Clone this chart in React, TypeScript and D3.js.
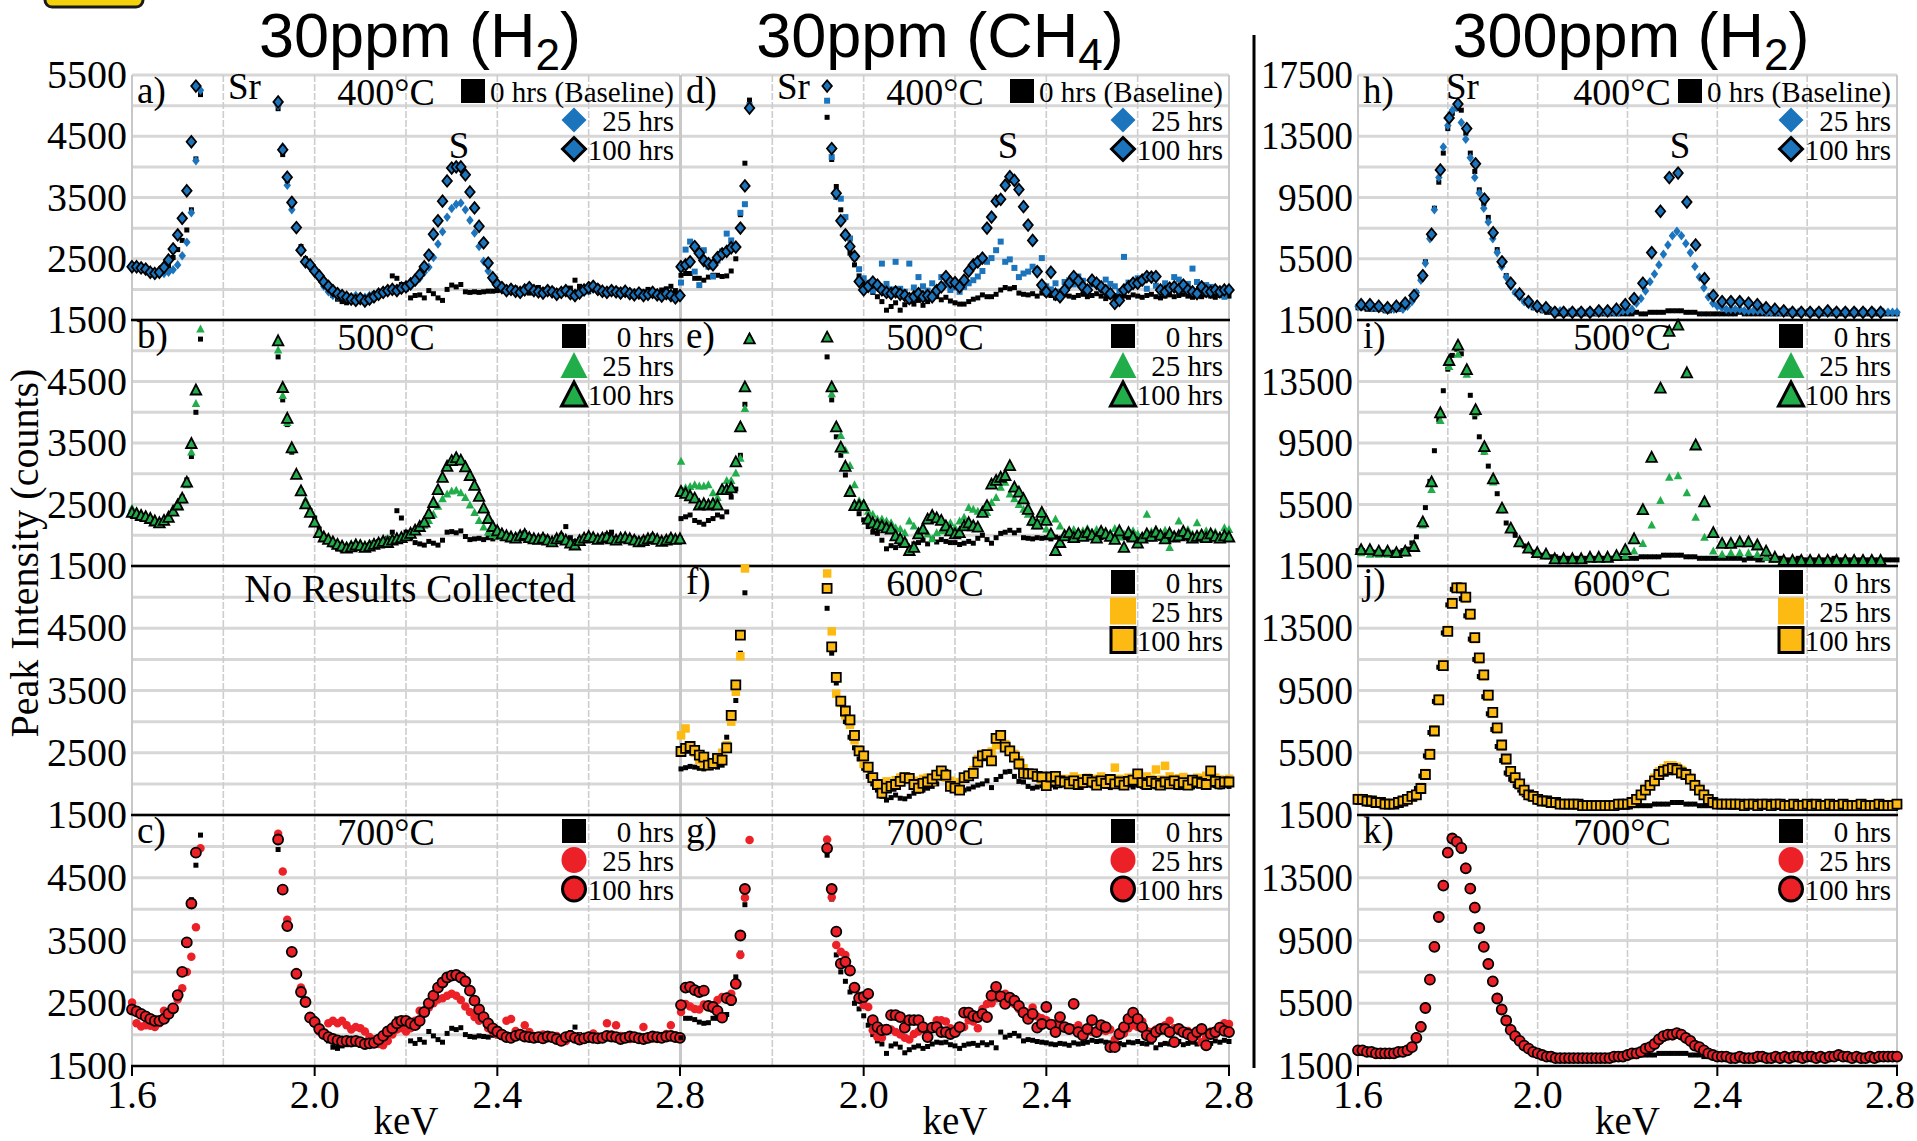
import React from 'react';
import * as d3 from 'd3';

type V = number | null;
const _ = null; // channel off scale (Sr peak clipped)

// energy grid of the spectra
const FINE_START = 1.6; // keV, 10 eV channels
const FINE_STEP = 0.01;
const COARSE_START = 1.607; // every other channel (h, i)
const COARSE_STEP = 0.0196;

// ---------- 30 ppm panels, counts / 10 ----------
const a0: V[] = [
  236,235,233,232,230,228,229,231,238,252,
  265,280,297,330,413,518,_,_,_,_,
  _,_,_,_,_,_,_,_,_,_,
  _,_,495,420,378,338,300,270,250,240,
  230,220,207,198,190,184,180,178,183,186,
  181,184,188,193,195,197,200,222,218,208,
  200,186,190,191,186,198,193,186,182,200,
  207,204,208,196,195,196,195,196,197,197,
  198,200,196,199,202,197,198,194,200,203,
  199,195,200,197,193,198,202,215,205,197,
  196,200,204,198,193,197,200,196,192,197,
  194,190,196,200,193,195,199,201,205,198,
  192];
const a25: V[] = [
  240,238,236,233,230,227,226,226,228,232,
  240,255,277,325,410,525,_,_,_,_,
  _,_,_,_,_,_,_,_,_,_,
  _,_,500,433,370,330,298,265,246,238,
  228,218,205,196,190,188,187,189,186,190,
  188,187,190,192,195,197,199,200,201,202,
  203,207,212,218,228,236,252,274,294,318,
  332,339,341,330,313,292,270,246,230,215,
  205,200,197,199,195,193,197,200,196,194,
  195,197,194,191,194,196,192,190,193,196,
  198,200,197,195,193,196,194,192,195,191,
  190,193,189,191,194,190,188,191,188,185,
  188];
const a100: V[] = [
  237,237,235,233,228,226,228,236,248,266,
  289,316,361,441,532,_,_,_,_,_,
  _,_,_,_,_,_,_,_,_,_,
  _,_,506,428,383,342,301,264,245,240,
  230,222,212,205,198,193,190,187,184,182,
  185,181,184,188,192,195,198,200,198,202,
  204,209,215,224,237,256,290,312,344,377,
  398,400,400,387,359,333,303,276,243,219,
  208,203,198,200,197,195,199,203,198,196,
  194,198,196,192,195,198,193,190,194,199,
  203,205,200,197,195,198,196,194,197,193,
  191,194,190,192,195,191,189,193,190,186,
  190];

const b0: V[] = [
  232,230,228,226,224,220,218,221,228,236,
  246,262,290,328,400,519,_,_,_,_,
  _,_,_,_,_,_,_,_,_,_,
  _,_,490,420,380,335,298,272,254,240,
  228,210,198,190,184,178,176,180,183,184,
  183,182,185,188,190,192,195,205,240,228,
  205,196,188,186,184,190,187,184,192,205,
  206,204,207,198,193,194,195,193,196,194,
  197,195,199,196,194,201,204,198,194,193,
  198,195,191,196,200,214,196,190,193,197,
  199,196,193,197,201,205,195,194,196,193,
  195,192,194,196,199,193,190,194,197,192,
  195];
const b25: V[] = [
  245,240,236,233,230,226,223,224,229,238,
  247,258,283,336,415,536,_,_,_,_,
  _,_,_,_,_,_,_,_,_,_,
  _,_,502,428,384,340,302,276,258,242,
  225,208,200,195,191,188,186,185,187,189,
  188,186,188,190,192,194,196,197,199,200,
  202,205,208,212,217,225,235,248,260,268,
  273,274,270,262,250,238,225,214,206,202,
  200,199,198,197,200,203,199,197,196,195,
  197,195,193,196,199,195,191,190,194,197,
  200,198,196,197,199,196,194,197,198,196,
  194,192,193,196,198,195,192,194,197,195,
  196];
const b100: V[] = [
  238,236,233,231,228,224,221,225,230,240,
  250,261,287,350,437,_,_,_,_,_,
  _,_,_,_,_,_,_,_,_,_,
  _,_,517,441,391,343,300,273,252,238,
  222,205,198,194,190,186,183,180,182,185,
  184,181,183,186,188,191,189,193,195,197,
  200,204,209,215,222,236,254,275,295,313,
  322,327,323,312,298,282,264,245,228,215,
  208,203,200,198,196,200,202,197,195,194,
  196,193,190,195,198,193,188,185,192,196,
  199,197,194,196,198,195,193,196,197,195,
  193,190,192,195,197,194,191,193,196,194,
  195];

const c0: V[] = [
  238,236,233,230,226,224,224,228,235,245,
  266,300,342,415,470,518,_,_,_,_,
  _,_,_,_,_,_,_,_,_,_,
  _,_,495,430,372,335,300,270,250,232,
  225,210,198,190,180,178,182,184,186,185,
  183,186,188,190,194,197,205,215,225,218,
  205,190,186,192,188,205,198,192,188,202,
  210,208,211,200,197,196,198,197,196,199,
  198,196,200,197,195,199,201,196,197,200,
  199,194,196,198,195,197,203,212,200,198,
  197,195,199,196,194,198,197,200,195,193,
  196,199,197,195,194,198,196,197,199,195,
  194];
const c25: V[] = [
  251,218,213,215,214,212,218,238,232,240,
  256,274,300,324,371,497,_,_,_,_,
  _,_,_,_,_,_,_,_,_,_,
  _,_,520,460,383,330,300,275,253,230,
  218,205,200,218,222,218,222,215,208,212,
  210,205,196,192,185,183,190,200,208,210,
  205,210,222,238,236,243,250,256,258,262,
  265,262,255,245,236,228,222,225,210,205,
  200,202,222,225,206,200,215,204,198,196,
  200,196,194,198,192,190,197,195,196,194,
  198,202,196,193,218,200,215,198,196,193,
  197,195,212,196,194,193,198,201,215,199,
  196];
const c100: V[] = [
  240,237,233,229,225,222,222,225,233,242,
  263,300,347,409,490,_,_,_,_,_,
  _,_,_,_,_,_,_,_,_,_,
  _,_,511,431,373,332,297,268,252,227,
  220,209,201,196,193,191,189,190,189,190,
  188,185,186,187,192,198,205,210,218,222,
  222,218,215,222,236,250,262,275,283,291,
  294,295,291,285,270,254,240,228,218,210,
  205,200,196,195,198,200,197,196,195,196,
  194,197,196,193,190,196,198,195,192,194,
  196,195,194,195,198,197,196,193,195,197,
  196,194,193,195,197,196,195,197,198,196,
  195];

const d0: V[] = [
  223,226,226,218,218,215,220,223,223,221,
  222,230,250,322,406,509,_,_,_,_,
  _,_,_,_,_,_,_,_,_,_,
  _,_,481,412,368,330,292,259,240,222,
  212,202,195,188,180,166,172,178,166,175,
  180,176,182,174,180,185,188,183,187,181,
  178,176,176,180,184,186,191,188,188,192,
  199,203,201,203,194,192,191,193,189,194,
  192,190,186,188,191,189,187,190,192,188,
  190,193,189,185,188,190,192,189,187,191,
  189,187,190,192,188,186,189,191,188,190,
  192,189,187,190,188,191,189,187,190,188,
  189];
const d25: V[] = [
  211,265,278,229,207,264,237,221,247,262,
  291,280,269,325,339,501,_,_,_,_,
  _,_,_,_,_,_,_,_,_,_,
  _,_,508,416,351,348,318,283,251,233,
  218,209,198,203,242,209,200,245,201,196,
  242,203,220,205,198,210,200,220,208,199,
  203,196,204,210,215,221,230,245,251,264,
  278,245,249,235,220,226,229,237,232,251,
  205,200,210,196,212,215,208,221,214,203,
  208,212,200,216,209,205,197,253,211,207,
  218,214,201,223,206,199,210,205,220,216,
  200,209,234,212,205,207,204,200,196,188,
  200];
const d100: V[] = [
  237,240,245,270,259,247,242,240,252,258,
  262,268,269,300,369,496,_,_,_,_,
  _,_,_,_,_,_,_,_,_,_,
  _,_,532,430,357,312,289,270,254,213,
  199,205,212,207,199,195,193,196,192,190,
  185,188,193,188,190,188,198,204,221,212,
  211,204,215,230,240,245,251,300,318,344,
  347,370,384,378,363,335,305,280,229,207,
  196,228,192,188,199,210,221,214,204,199,
  215,210,204,198,193,177,182,199,204,210,
  210,215,221,220,221,199,196,202,204,200,
  207,199,196,193,204,197,196,199,196,199,
  199];

const e0: V[] = [
  227,230,233,224,221,218,224,227,233,230,
  238,262,275,330,413,515,_,_,_,_,
  _,_,_,_,_,_,_,_,_,_,
  _,_,490,420,360,330,298,270,250,235,
  225,214,205,203,192,178,183,180,186,190,
  180,186,188,192,186,194,189,193,190,188,
  188,185,187,190,187,195,200,193,187,196,
  203,205,208,204,208,196,195,194,196,195,
  196,194,197,195,198,196,193,195,198,196,
  197,194,196,199,195,193,198,196,194,197,
  195,198,196,194,197,195,199,196,193,197,
  196,194,198,195,197,196,194,198,196,195,
  197];
const e25: V[] = [
  321,278,280,283,281,281,283,270,262,275,
  290,290,302,326,407,524,_,_,_,_,
  _,_,_,_,_,_,_,_,_,_,
  _,_,525,431,377,363,339,314,283,257,
  254,240,235,227,227,224,221,213,211,205,
  224,216,208,210,203,195,205,208,209,221,
  213,224,230,246,243,240,238,238,254,262,
  279,287,268,260,251,243,235,221,216,227,
  211,205,227,216,205,207,210,204,208,212,
  206,210,203,208,205,212,198,203,206,208,
  203,196,235,207,211,204,209,181,203,224,
  206,210,203,221,205,208,202,206,200,213,
  210];
const e100: V[] = [
  272,269,265,261,250,252,250,252,250,275,
  275,278,320,377,442,520,_,_,_,_,
  _,_,_,_,_,_,_,_,_,_,
  _,_,523,442,377,344,313,272,249,249,
  249,227,221,218,216,213,211,200,195,189,
  176,181,203,211,227,233,229,225,216,208,
  203,205,216,221,216,214,238,249,284,290,
  295,298,314,279,271,260,243,225,219,238,
  225,203,176,189,200,205,197,203,199,205,
  201,196,207,203,199,194,208,181,205,198,
  188,196,203,199,206,201,195,204,198,200,
  207,202,196,199,201,197,203,199,196,200,
  198];

const f0: V[] = [
  224,226,228,227,225,224,226,228,227,230,
  275,299,334,410,507,_,_,_,_,_,
  _,_,_,_,_,_,_,_,_,_,
  _,_,482,410,362,330,300,275,258,240,
  225,212,200,190,180,174,178,182,177,176,
  180,185,188,190,193,196,200,212,220,205,
  196,193,190,192,195,198,200,205,194,207,
  212,219,220,212,204,203,196,193,195,197,
  196,198,195,197,199,196,198,195,197,199,
  197,195,198,196,194,199,197,196,198,195,
  198,196,199,197,195,198,196,199,197,194,
  196,198,195,197,199,196,198,197,195,198,
  196];
const f25: V[] = [
  278,289,262,250,238,232,235,233,240,250,
  262,300,348,405,546,_,_,_,_,_,
  _,_,_,_,_,_,_,_,_,_,
  _,_,538,445,345,330,310,295,270,255,
  232,225,208,200,198,204,200,206,210,212,
  210,205,201,208,210,204,212,215,210,205,
  200,203,208,215,222,240,248,246,252,262,
  268,264,255,248,238,225,218,214,210,206,
  204,206,210,203,208,205,212,209,206,210,
  205,208,212,209,206,226,208,206,210,207,
  210,206,212,208,223,207,229,212,205,209,
  211,207,205,210,209,213,206,210,207,205,
  208];
const f100: V[] = [
  252,257,260,254,246,243,230,233,241,238,
  258,310,359,439,_,_,_,_,_,_,
  _,_,_,_,_,_,_,_,_,_,
  _,_,514,420,371,333,317,303,278,253,
  245,227,210,199,185,193,196,199,204,210,
  209,199,193,201,203,208,214,221,214,196,
  193,190,210,213,217,235,245,247,237,273,
  278,259,253,243,232,217,216,216,212,211,
  197,211,212,205,203,200,205,199,202,207,
  203,198,205,201,207,200,203,198,204,206,
  216,202,199,204,201,198,203,200,205,199,
  202,198,206,203,201,199,221,204,200,203,
  203];

const g0: V[] = [
  195,226,226,224,220,218,219,226,226,228,
  232,250,292,330,407,_,_,_,_,_,
  _,_,_,_,_,_,_,_,_,_,
  _,_,486,416,327,300,285,268,250,241,
  230,215,200,190,185,170,182,185,180,171,
  176,180,182,178,181,185,188,187,188,184,
  182,178,183,185,186,183,187,184,187,179,
  204,196,199,202,198,190,192,191,189,188,
  187,185,184,186,185,183,187,185,186,188,
  191,189,190,188,187,185,186,184,188,187,
  189,186,185,188,179,184,186,185,187,189,
  184,186,188,185,187,189,186,190,188,191,
  189];
const g25: V[] = [
  236,249,245,241,240,248,246,241,255,260,
  260,265,280,327,418,510,_,_,_,_,
  _,_,_,_,_,_,_,_,_,_,
  _,_,511,419,343,332,327,305,275,262,
  247,244,207,196,195,210,208,204,200,195,
  192,201,205,208,210,212,223,223,221,210,
  208,213,212,223,221,210,241,249,250,258,
  262,265,257,249,241,238,235,243,229,226,
  223,215,218,215,212,207,210,215,204,206,
  204,207,207,206,208,192,204,202,210,215,
  212,221,206,204,208,210,215,222,210,206,
  204,206,200,198,188,196,205,200,210,218,
  217];
const g100: V[] = [
  247,275,276,271,268,270,246,244,238,227,
  258,255,281,358,432,_,_,_,_,_,
  _,_,_,_,_,_,_,_,_,_,
  _,_,497,432,364,313,316,302,275,258,
  260,265,223,212,207,208,231,231,228,211,
  223,223,223,212,196,211,212,204,204,201,
  204,212,235,235,230,228,233,228,262,276,
  261,249,259,254,246,235,225,233,211,217,
  244,216,204,228,212,209,249,204,199,209,
  223,204,215,212,180,180,201,212,225,235,
  225,212,199,195,204,209,209,204,188,209,
  204,201,196,204,209,183,201,204,211,206,
  204];

// ---------- 300 ppm panels, counts / 100 ----------
const h0: V[] = [
  23,23,22,22,22,22,21,21,22,22,
  23,25,28,33,42,53,70,88,105,124,
  140,150,153,152,137,124,112,100,91,82,
  71,61,52,44,38,33,30,27,25,23,
  22,21,20,20,19,19,19,19,19,19,
  19,19,19,19,19,19,19,19,19,19,
  19,19,20,19,19,20,20,20,20,21,
  21,21,21,20,20,20,19,19,19,19,
  19,19,19,19,19,20,19,19,19,19,
  19,19,19,19,19,19,19,19,19,20,
  19,19,19,19,19,19,19,19,19,19,
  19,19,19,19,19,19,19,19,19,19,
  19];
const h25: V[] = [
  24,24,24,23,23,23,22,22,22,23,
  22,24,27,33,41,52,68,87,108,128,
  142,152,154,144,133,121,108,98,88,79,
  68,59,50,43,37,33,30,27,25,24,
  23,22,22,21,21,21,20,20,20,20,
  20,20,20,20,20,20,20,20,20,21,
  21,22,26,29,34,40,45,51,58,64,
  70,73,70,65,59,50,43,36,30,26,
  24,23,22,22,22,22,21,21,21,21,
  21,20,20,20,20,20,20,20,20,20,
  20,20,20,20,20,20,20,20,20,20,
  20,20,20,20,20,20,20,20,20,20,
  20];
const h100: V[] = [
  25,25,24,23,24,26,31,44,71,113,
  147,156,140,117,94,72,53,39,32,27,
  24,23,20,20,20,20,20,21,21,22,
  25,29,39,59,86,108,111,92,64,42,
  31,27,27,27,26,25,23,22,21,20,
  20,20,20,21,20,20,20,20,20,20];

const i0: V[] = [
  25,25,24,24,24,24,24,23,24,24,
  25,26,30,34,42,53,70,90,110,129,
  143,152,156,153,141,126,112,99,89,80,
  70,62,51,43,38,35,31,28,26,24,
  23,22,21,21,21,20,20,20,20,20,
  20,20,20,20,20,20,20,20,20,20,
  20,20,20,21,21,21,21,21,22,22,
  22,22,22,21,21,21,20,20,20,20,
  20,20,20,20,20,20,19,20,20,19,
  19,20,19,19,20,19,19,19,20,19,
  19,19,19,19,19,19,20,19,19,19,
  19,19,19,19,19,19,19,19,19,19,
  19];
const i25: V[] = [
  24,23,23,23,23,24,30,42,65,110,
  145,153,140,115,90,70,52,40,32,27,
  24,22,20,20,20,20,20,20,20,21,
  22,25,30,42,58,73,74,63,47,34,
  25,23,24,24,24,23,21,20,19,19,
  19,19,19,19,19,19,19,19,19,19];
const i100: V[] = [
  26,26,25,25,24,25,28,44,70,115,
  149,159,143,117,93,72,53,40,31,27,
  24,23,20,20,20,20,21,21,21,22,
  26,33,52,86,131,168,172,141,94,57,
  37,30,30,31,31,29,25,21,19,19,
  19,19,19,19,19,19,19,19,19,19];

const j0: V[] = [
  23,23,22,22,22,21,21,21,22,22,
  24,26,28,32,40,53,68,88,110,132,
  150,160,160,154,143,128,115,104,91,80,
  70,59,50,42,38,34,31,28,26,25,
  23,23,22,22,22,21,21,21,21,21,
  21,21,20,20,20,20,20,20,20,20,
  20,21,21,21,21,21,22,22,22,22,
  23,23,23,22,22,22,21,21,21,21,
  21,21,21,20,20,20,20,21,21,20,
  20,20,20,20,20,20,20,21,20,20,
  20,20,20,20,20,20,20,20,20,20,
  20,20,20,20,20,20,20,20,20,20,
  20];
const j25: V[] = [
  26,25,25,24,24,23,23,22,22,23,
  24,25,26,28,33,42,55,70,90,112,
  134,152,162,161,154,143,128,115,104,91,
  80,70,59,50,43,38,34,30,28,26,
  25,24,23,23,22,22,22,21,21,21,
  21,21,21,21,21,21,21,21,22,22,
  22,23,25,28,32,35,39,43,45,47,
  47,46,44,42,39,35,32,28,25,23,
  22,22,22,22,22,21,22,22,22,22,
  22,22,22,22,22,22,21,22,22,22,
  22,22,22,21,22,22,22,22,22,22,
  22,22,22,22,22,22,22,22,22,22,
  22];
const j100: V[] = [
  25,25,24,24,23,23,22,22,22,23,
  24,25,27,28,32,41,54,69,89,111,
  133,151,161,161,155,144,129,116,105,92,
  81,71,60,51,43,39,35,31,28,27,
  25,24,24,23,23,22,22,22,22,22,
  21,21,21,21,21,21,21,21,22,22,
  22,23,25,28,31,34,37,41,43,44,
  45,44,42,41,38,34,31,28,25,23,
  22,22,22,22,22,22,21,22,22,21,
  22,22,21,22,22,21,21,22,21,21,
  22,21,22,21,21,22,21,21,22,21,
  21,21,22,21,21,21,22,21,21,21,
  22];

const k0: V[] = [
  24,24,24,23,23,22,22,22,23,23,
  24,26,28,33,40,52,70,90,110,129,
  150,158,157,152,140,127,115,102,90,79,
  68,58,50,43,38,33,30,27,25,24,
  22,21,21,21,21,21,21,21,21,21,
  21,21,21,21,21,21,21,21,21,21,
  21,21,21,22,22,22,22,23,23,23,
  23,23,23,23,22,22,22,21,21,21,
  21,21,21,21,21,21,21,21,21,21,
  21,21,21,21,21,21,21,21,21,21,
  21,21,21,21,21,21,21,21,21,21,
  21,21,21,21,21,21,21,21,21,21,
  21];
const k25: V[] = [
  25,25,24,24,23,23,23,23,23,24,
  24,26,28,34,41,53,71,92,111,131,
  152,160,158,155,142,129,117,104,92,81,
  69,59,51,44,39,34,31,28,26,24,
  23,22,21,21,20,20,20,20,20,20,
  20,20,20,20,20,20,20,20,21,21,
  21,22,22,24,25,27,29,31,33,34,
  34,35,34,32,30,28,26,24,23,22,
  21,21,21,20,20,20,20,20,20,21,
  21,20,20,20,20,21,20,21,20,20,
  21,21,20,21,20,21,21,22,21,21,
  20,21,20,20,21,20,21,21,21,21,
  21];
const k100: V[] = [
  25,25,24,24,23,23,23,23,23,24,
  24,25,27,33,40,52,70,91,110,130,
  151,160,158,154,141,128,116,103,91,80,
  69,58,51,44,38,34,31,28,26,24,
  23,22,21,21,20,20,20,20,20,20,
  20,20,20,20,20,20,20,21,21,21,
  22,23,23,24,26,27,29,32,34,35,
  35,36,35,33,31,28,27,25,23,22,
  21,21,21,20,20,21,20,20,20,21,
  21,20,20,21,20,21,20,21,21,20,
  21,21,20,21,20,21,21,22,21,21,
  20,21,20,20,21,20,21,21,21,21,
  21];

// ---------- labels & axes ----------
const TEMPS = ['400°C', '500°C', '600°C', '700°C'];
const X_TICKS = [1.6, 2.0, 2.4, 2.8];
const X_GRID = [1.6, 1.8, 2.0, 2.2, 2.4, 2.6, 2.8];
const Y_TICKS_30 = [5500, 4500, 3500, 2500, 1500];
const Y_TICKS_300 = [17500, 13500, 9500, 5500, 1500];
const HOURS = ['0 hrs', '25 hrs', '100 hrs'];

const COLORS = { blue: '#1c75bc', green: '#22ad4b', yellow: '#fdba12', red: '#ec2128' };
type Fam = keyof typeof COLORS;
type Shape = 'square' | 'diamond' | 'triangle' | 'circle';
const FAM_SHAPE: Record<Fam, Shape> = { blue: 'diamond', green: 'triangle', yellow: 'square', red: 'circle' };

// marker sizes [w, h]
const SIZES: Record<Shape, { s25: number[]; s100: number[]; leg: number[] }> = {
  square: { s25: [8.5, 8.5], s100: [9, 9], leg: [26, 27] },
  diamond: { s25: [7.5, 9.5], s100: [9.5, 11.5], leg: [25, 25] },
  triangle: { s25: [8.5, 8], s100: [10.5, 10], leg: [27, 26] },
  circle: { s25: [8.5, 8.5], s100: [10, 10], leg: [25, 26] },
};

interface Series { v: V[]; start: number; step: number }
const fine = (v: V[]): Series => ({ v, start: FINE_START, step: FINE_STEP });
const coarse = (v: V[]): Series => ({ v, start: COARSE_START, step: COARSE_STEP });

interface Panel { id: string; col: number; row: number; fam: Fam; unit: number; s: Series[]; sq25?: boolean }

const PANELS: Panel[] = [
  { id: 'a', col: 0, row: 0, fam: 'blue', unit: 10, s: [fine(a0), fine(a25), fine(a100)] },
  { id: 'b', col: 0, row: 1, fam: 'green', unit: 10, s: [fine(b0), fine(b25), fine(b100)] },
  { id: 'c', col: 0, row: 3, fam: 'red', unit: 10, s: [fine(c0), fine(c25), fine(c100)] },
  { id: 'd', col: 1, row: 0, fam: 'blue', unit: 10, s: [fine(d0), fine(d25), fine(d100)], sq25: true },
  { id: 'e', col: 1, row: 1, fam: 'green', unit: 10, s: [fine(e0), fine(e25), fine(e100)] },
  { id: 'f', col: 1, row: 2, fam: 'yellow', unit: 10, s: [fine(f0), fine(f25), fine(f100)] },
  { id: 'g', col: 1, row: 3, fam: 'red', unit: 10, s: [fine(g0), fine(g25), fine(g100)] },
  { id: 'h', col: 2, row: 0, fam: 'blue', unit: 100, s: [fine(h0), fine(h25), coarse(h100)] },
  { id: 'i', col: 2, row: 1, fam: 'green', unit: 100, s: [fine(i0), coarse(i25), coarse(i100)] },
  { id: 'j', col: 2, row: 2, fam: 'yellow', unit: 100, s: [fine(j0), fine(j25), fine(j100)] },
  { id: 'k', col: 2, row: 3, fam: 'red', unit: 100, s: [fine(k0), fine(k25), fine(k100)] },
];

const COLS = [
  { x0: 132, x1: 680, yMax: 5500, labels: true, xTicks: X_TICKS },
  { x0: 681, x1: 1229, yMax: 5500, labels: false, xTicks: [2.0, 2.4, 2.8] },
  { x0: 1358, x1: 1897, yMax: 17500, labels: true, xTicks: X_TICKS },
];
const ROWS = [[75, 320], [320, 566], [566, 815], [815, 1066]];

const SERIF = "'Liberation Serif', 'Times New Roman', serif";
const SANS = "'Liberation Sans', Arial, sans-serif";
const LEG_FONT = 29;
const BASELINE_TEXT_W = 184; // width of "0 hrs (Baseline)" at LEG_FONT
const PAGE_W = 1917;

function shapePath(shape: Shape, cx: number, cy: number, w: number, h: number): string {
  const hw = w / 2, hh = h / 2;
  const f = (n: number) => n.toFixed(1);
  switch (shape) {
    case 'square':
      return `M${f(cx - hw)},${f(cy - hh)}h${w}v${h}h${-w}Z`;
    case 'diamond':
      return `M${f(cx)},${f(cy - hh)}L${f(cx + hw)},${f(cy)}L${f(cx)},${f(cy + hh)}L${f(cx - hw)},${f(cy)}Z`;
    case 'triangle':
      return `M${f(cx)},${f(cy - hh)}L${f(cx + hw)},${f(cy + hh)}L${f(cx - hw)},${f(cy + hh)}Z`;
    default:
      return `M${f(cx - hw)},${f(cy)}a${hw},${hh} 0 1,0 ${w},0a${hw},${hh} 0 1,0 ${-w},0Z`;
  }
}

function Title({ x, main, sub }: { x: number; main: string; sub: string }) {
  return (
    <text x={x} y={57} textAnchor="middle" fontFamily={SANS} fontSize={63} fill="#000">
      {main}
      <tspan fontSize={44} dy={13}>{sub}</tspan>
      <tspan dy={-13}>)</tspan>
    </text>
  );
}

export default function App() {
  const grid: React.ReactNode[] = [];
  const axes: React.ReactNode[] = [];
  const marks: React.ReactNode[] = [];
  const texts: React.ReactNode[] = [];

  // grid, axis lines and tick labels for every cell
  COLS.forEach((col, ci) => {
    const x = d3.scaleLinear().domain([1.6, 2.8]).range([col.x0, col.x1]);
    ROWS.forEach(([top, bottom], ri) => {
      const y = d3.scaleLinear().domain([1500, col.yMax]).range([bottom, top]);
      const step = col.yMax > 10000 ? 2000 : 500;
      d3.range(1500 + step, col.yMax + 1, step).forEach((v) => {
        grid.push(<line key={`hg${ci}${ri}${v}`} x1={col.x0} x2={col.x1} y1={y(v)} y2={y(v)}
          stroke="#d7d7d7" strokeWidth={3} />);
      });
      X_GRID.forEach((e, gi) => {
        const edge = gi === 0 || gi === X_GRID.length - 1;
        grid.push(<line key={`vg${ci}${ri}${gi}`} x1={x(e)} x2={x(e)} y1={top} y2={bottom}
          stroke={edge ? '#c8c8c8' : '#cdcdcd'} strokeWidth={edge ? 2 : 1.6}
          strokeDasharray={edge ? undefined : '7 2'} />);
      });
      axes.push(<line key={`ax${ci}${ri}`} x1={col.x0 - 1} x2={col.x1 + 1} y1={bottom} y2={bottom}
        stroke="#000" strokeWidth={2.6} />);
      if (col.labels) {
        const ticks = col.yMax > 10000 ? Y_TICKS_300 : Y_TICKS_30;
        ticks.filter((t) => ri === 0 || t !== col.yMax).forEach((t) => {
          const label = String(t);
          const squeeze = col.yMax > 10000 ? (label.length === 5 ? 92 : 75) : undefined;
          texts.push(<text key={`yl${ci}${ri}${t}`} x={col.x0 - 5} y={y(t) + 13} textAnchor="end"
            fontSize={40} textLength={squeeze} lengthAdjust="spacingAndGlyphs">{label}</text>);
        });
      }
    });
    // x axis ticks
    col.xTicks.forEach((t) => {
      axes.push(<line key={`xt${ci}${t}`} x1={x(t)} x2={x(t)} y1={1066} y2={1076} stroke="#000" strokeWidth={2} />);
      const lx = Math.min(x(t), PAGE_W - 27);
      texts.push(<text key={`xl${ci}${t}`} x={lx} y={1108} textAnchor="middle" fontSize={40}>{t.toFixed(1)}</text>);
    });
    texts.push(<text key={`kev${ci}`} x={x(2.2)} y={1134} textAnchor="middle" fontSize={39}>keV</text>);
  });

  // panels
  PANELS.forEach((p) => {
    const col = COLS[p.col];
    const [top, bottom] = ROWS[p.row];
    const x = d3.scaleLinear().domain([1.6, 2.8]).range([col.x0, col.x1]);
    const y = d3.scaleLinear().domain([1500, col.yMax]).range([bottom, top]);
    const color = COLORS[p.fam];
    const shape = FAM_SHAPE[p.fam];

    p.s.forEach((ser, si) => {
      ser.v.forEach((val, k) => {
        if (val == null) return;
        const counts = val * p.unit;
        const e = ser.start + k * ser.step;
        if (counts > col.yMax || counts < 1450 || e > 2.805) return;
        const cx = x(e), cy = y(counts);
        let d: string, fill: string, stroke = 'none', sw = 0;
        if (si === 0) {
          d = shapePath('square', cx, cy, 5, 5);
          fill = '#000';
        } else if (si === 1) {
          const sh = p.sq25 ? 'square' : shape;
          const [w, h] = p.sq25 ? [6, 6] : SIZES[shape].s25;
          d = shapePath(sh, cx, cy, w, h);
          fill = color;
        } else {
          const [w, h] = SIZES[shape].s100;
          d = shapePath(shape, cx, cy, w, h);
          fill = color;
          stroke = '#000';
          sw = 1.8;
        }
        marks.push(<path key={`${p.id}${si}-${k}`} d={d} fill={fill} stroke={stroke} strokeWidth={sw} />);
      });
    });

    // panel letter and temperature
    texts.push(<text key={`lt${p.id}`} x={col.x0 + 5} y={top + 28} fontSize={37}>{p.id})</text>);
    texts.push(<text key={`tp${p.id}`} x={col.x0 + (p.col === 2 ? 264 : 254)} y={top + 30}
      textAnchor="middle" fontSize={38}>{TEMPS[p.row]}</text>);

    // peak labels in the top row
    if (p.row === 0) {
      texts.push(<text key={`sr${p.id}`} x={col.x0 + (p.col === 2 ? 88 : 96)} y={top + 24} fontSize={37}>Sr</text>);
      texts.push(<text key={`s${p.id}`} x={col.x0 + (p.col === 2 ? 322 : 327)} y={top + 83}
        textAnchor="middle" fontSize={37}>S</text>);
    }

    // legend
    const lx = col.x1 - 106;
    const tx = col.x1 - 6;
    const [lw, lh] = SIZES[shape].leg;
    const firstLabel = p.row === 0 ? '0 hrs (Baseline)' : HOURS[0];
    const sqX = p.row === 0 ? tx - BASELINE_TEXT_W - 17 : lx;
    marks.push(<path key={`lg0${p.id}`} d={shapePath('square', sqX, top + 16, 24, 24)} fill="#000" />);
    marks.push(<path key={`lg1${p.id}`} d={shapePath(shape, lx, top + 45, lw, lh)} fill={color} />);
    marks.push(<path key={`lg2${p.id}`} d={shapePath(shape, lx, top + 74, lw - 2, lh - 2)} fill={color}
      stroke="#000" strokeWidth={3} />);
    texts.push(<text key={`lx0${p.id}`} x={tx} y={top + 27} textAnchor="end" fontSize={LEG_FONT}
      textLength={p.row === 0 ? BASELINE_TEXT_W : undefined} lengthAdjust="spacingAndGlyphs">{firstLabel}</text>);
    texts.push(<text key={`lx1${p.id}`} x={tx} y={top + 56} textAnchor="end" fontSize={LEG_FONT}>{HOURS[1]}</text>);
    texts.push(<text key={`lx2${p.id}`} x={tx} y={top + 85} textAnchor="end" fontSize={LEG_FONT}>{HOURS[2]}</text>);
  });

  return (
    <svg width={PAGE_W} height={1141} style={{ position: 'absolute', left: 0, top: 0, background: '#fff' }}
      fontFamily={SERIF}>
      <rect x={45} y={-22} width={98} height={29} rx={7} fill="#f3d20c" stroke="#1a1a1a" strokeWidth={3} />
      <Title x={420} main="30ppm (H" sub="2" />
      <Title x={940} main="30ppm (CH" sub="4" />
      <Title x={1631} main="300ppm (H" sub="2" />
      <g>{grid}</g>
      <g>{axes}</g>
      <g>{marks}</g>
      <g fill="#000">{texts}</g>
      <text x={410} y={602} textAnchor="middle" fontSize={39}>No Results Collected</text>
      <line x1={1254} x2={1254} y1={35} y2={1068} stroke="#000" strokeWidth={3} />
      <text transform="translate(38,553) rotate(-90)" textAnchor="middle" fontSize={40}>Peak Intensity (counts)</text>
    </svg>
  );
}
